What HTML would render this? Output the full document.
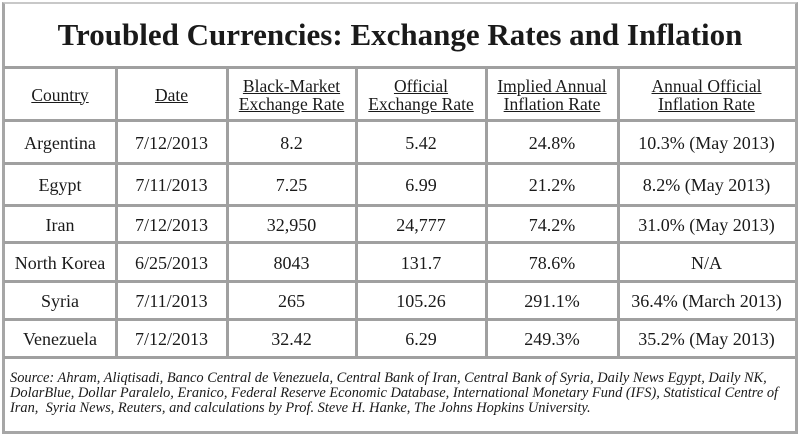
<!DOCTYPE html>
<html><head><meta charset="utf-8"><style>
body{margin:0;width:800px;height:435px;background:#fff;overflow:hidden;font-family:"Liberation Serif",serif;color:#1a1a1a}
#frame{position:absolute;left:2px;top:2px;width:790px;height:427px;border:3px solid #a6a6a6;border-top:2px solid #c8c8c8}
.c{position:absolute;display:flex;align-items:center;justify-content:center;text-align:center;font-size:18px;line-height:18px;box-sizing:border-box;white-space:nowrap}
.h{text-decoration:underline;font-size:17.5px}
.hl{position:absolute;height:3px;background:#a0a0a0;left:4px;width:791px}
.vl{position:absolute;width:3px;background:#a0a0a0;top:67px;height:290px}
#title{position:absolute;left:5px;top:4px;width:790px;height:62px;display:flex;align-items:center;justify-content:center;font-weight:bold;font-size:31px}
#foot{position:absolute;left:10px;top:371px;width:785px;font-style:italic;font-size:14.4px;line-height:15px}
</style></head><body>
<div id="frame"></div>
<div id="title">Troubled Currencies: Exchange Rates and Inflation</div>
<div id="lines"></div>
<div id="cells"></div>
<div id="foot">Source: Ahram, Aliqtisadi, Banco Central de Venezuela, Central Bank of Iran, Central Bank of Syria, Daily News Egypt, Daily NK, DolarBlue, Dollar Paralelo, Eranico, Federal Reserve Economic Database, International Monetary Fund (IFS), Statistical Centre of Iran, &nbsp;Syria News, Reuters, and calculations by Prof. Steve H. Hanke, The Johns Hopkins University.</div>
<script>
const headers=["Country","Date","Black-Market<br>Exchange Rate","Official<br>Exchange Rate","Implied Annual<br>Inflation Rate","Annual Official<br>Inflation Rate"];
const countries=["Argentina","Egypt","Iran","North Korea","Syria","Venezuela"];
const dates=["7/12/2013","7/11/2013","7/12/2013","6/25/2013","7/11/2013","7/12/2013"];
const blackRates=["8.2","7.25","32,950","8043","265","32.42"];
const officialRates=["5.42","6.99","24,777","131.7","105.26","6.29"];
const impliedInfl=["24.8%","21.2%","74.2%","78.6%","291.1%","249.3%"];
const officialInfl=["10.3% (May 2013)","8.2% (May 2013)","31.0% (May 2013)","N/A","36.4% (March 2013)","35.2% (May 2013)"];
const colX=[4,116,227,356,486,618,795];
const rowY=[67,120,163,205,242,281,319,357];
const L=document.getElementById('lines'),C=document.getElementById('cells');
rowY.forEach(y=>{const d=document.createElement('div');d.className='hl';d.style.top=(y-1)+'px';


L.appendChild(d);});
colX.slice(1,6).forEach(x=>{const d=document.createElement('div');d.className='vl';d.style.left=(x-1)+'px';


L.appendChild(d);});
function cell(r,c,html,cls){const d=document.createElement('div');d.className='c'+(cls?' '+cls:'');
d.style.left=colX[c]+'px';d.style.width=(colX[c+1]-colX[c])+'px';d.style.top=(rowY[r]+2)+'px';d.style.height=(rowY[r+1]-rowY[r]-2)+'px';
d.innerHTML=html;


C.appendChild(d);}
headers.forEach((h,i)=>cell(0,i,h,'h'));
const cols=[countries,dates,blackRates,officialRates,impliedInfl,officialInfl];
countries.forEach((_,r)=>cols.forEach((a,c)=>cell(r+1,c,a[r])));
</script>
</body></html>
